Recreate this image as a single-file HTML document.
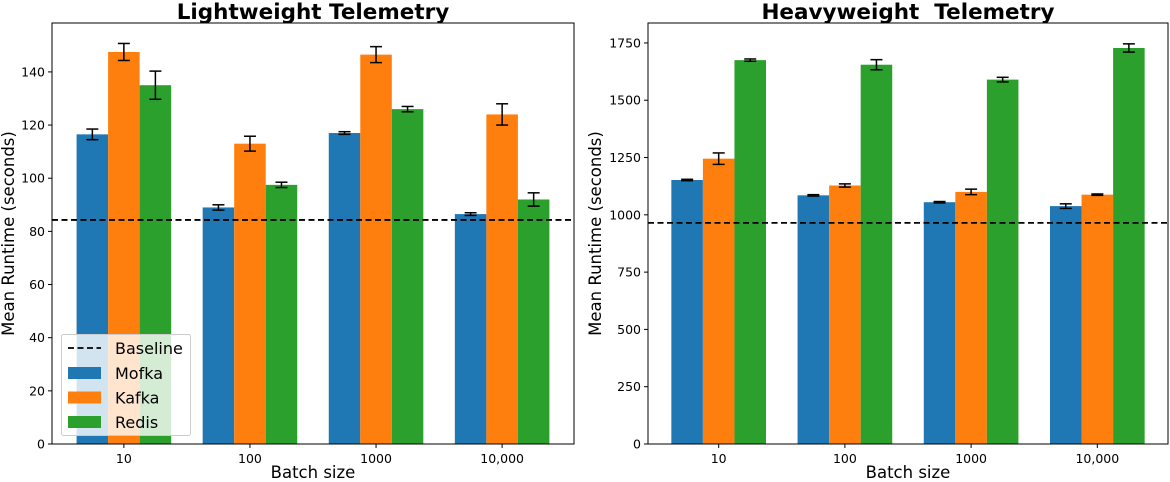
<!DOCTYPE html>
<html><head><meta charset="utf-8"><style>
html,body{margin:0;padding:0;background:#fff;}
svg{display:block;font-family:"DejaVu Sans","Liberation Sans",sans-serif;}
</style></head><body>
<svg id="chart" width="1170" height="482" viewBox="0 0 1170 482" xmlns="http://www.w3.org/2000/svg"></svg>
<script>
const categories = ["10","100","1000","10,000"];
const seriesNames = ["Mofka","Kafka","Redis"];
const lightMofka = [116.5, 89, 117, 86.5];
const lightMofkaErr = [2, 1, 0.5, 0.5];
const lightKafka = [147.5, 113, 146.5, 124];
const lightKafkaErr = [3.2, 2.8, 3, 4];
const lightRedis = [135, 97.5, 126, 92];
const lightRedisErr = [5.3, 1, 1, 2.5];
const lightBaseline = 84.3;
const lightTicks = [0,20,40,60,80,100,120,140];
const heavyMofka = [1152, 1085, 1055, 1038];
const heavyMofkaErr = [3, 3, 3, 10];
const heavyKafka = [1245, 1128, 1100, 1088];
const heavyKafkaErr = [25, 7, 12, 3];
const heavyRedis = [1675, 1655, 1590, 1728];
const heavyRedisErr = [5, 22, 10, 18];
const heavyBaseline = 965;
const heavyTicks = [0,250,500,750,1000,1250,1500,1750];

const colors = ["#1f77b4","#ff7f0e","#2ca02c"];
const NS = "http://www.w3.org/2000/svg";
const svg = document.getElementById("chart");
function mk(tag, attrs, parent){
  const e = document.createElementNS(NS, tag);
  for (const k in attrs) e.setAttribute(k, attrs[k]);
  (parent||svg).appendChild(e);
  return e;
}

function panel(cfg){
  const g = mk("g", {});
  
  
  const L=cfg.left, R=cfg.right, T=23, B=444;
  const xScale = i => L + (i - cfg.xmin) / (cfg.xmax - cfg.xmin) * (R - L);
  const yScale = v => B - v / cfg.ymax * (B - T);
  const bw = (xScale(1) - xScale(0)) * 0.25;
  const vals = [cfg.m, cfg.k, cfg.r], errs = [cfg.me, cfg.ke, cfg.re];
  for (let s=0; s<3; s++){
    for (let i=0; i<categories.length; i++){
      const cx = xScale(i) + (s-1)*bw;
      const y = yScale(vals[s][i]);
      const bar = mk("rect", {x:cx-bw/2, y:y, width:bw, height:B-y, fill:colors[s]}, g);
      
      
      const e = errs[s][i];
      const eg = mk("g", {stroke:"#000","stroke-width":1.5}, g);
      
      
      mk("line", {x1:cx, x2:cx, y1:yScale(vals[s][i]+e), y2:yScale(vals[s][i]-e)}, eg);
      mk("line", {x1:cx-6, x2:cx+6, y1:yScale(vals[s][i]+e), y2:yScale(vals[s][i]+e)}, eg);
      mk("line", {x1:cx-6, x2:cx+6, y1:yScale(vals[s][i]-e), y2:yScale(vals[s][i]-e)}, eg);
    }
  }
  const bl = mk("line", {x1:L, x2:R, y1:yScale(cfg.base), y2:yScale(cfg.base), stroke:"#000", "stroke-width":1.8, "stroke-dasharray":"6,3.5"}, g);
  
  
  const frame = mk("rect", {x:L, y:T, width:R-L, height:B-T, fill:"none", stroke:"#000", "stroke-width":1}, g);
  
  
  for (const t of cfg.ticks){
    const y = yScale(t);
    mk("line", {x1:L-4, x2:L, y1:y, y2:y, stroke:"#000"}, g);
    const tx = mk("text", {x:L-7, y:y+4.5, "text-anchor":"end", "font-size":12.5}, g);
    tx.textContent = t;
    
    
  }
  for (let i=0;i<categories.length;i++){
    const x = xScale(i);
    mk("line", {x1:x, x2:x, y1:B, y2:B+4, stroke:"#000"}, g);
    const tx = mk("text", {x:x, y:B+19, "text-anchor":"middle", "font-size":12.5}, g);
    tx.textContent = categories[i];
    
    
  }
  const xt = mk("text", {x:(L+R)/2, y:478, "text-anchor":"middle", "font-size":16.5}, g);
  xt.textContent = "Batch size";
  
  
  const yt = mk("text", {x:0, y:0, "text-anchor":"middle", "font-size":16.5, transform:"translate("+cfg.ylabX+","+((T+B)/2)+") rotate(-90)"}, g);
  yt.textContent = "Mean Runtime (seconds)";
  
  
  const tt = mk("text", {x:(L+R)/2, y:19, "text-anchor":"middle", "font-size":21.5, "font-weight":"bold"}, g);
  tt.textContent = cfg.title;
  
  
  tt.style.whiteSpace = 'pre';
}

panel({name:"lightweight-panel", title:"Lightweight Telemetry", left:52, right:574, xmin:-0.57, xmax:3.57, ymax:158.4,
  m:lightMofka, me:lightMofkaErr, k:lightKafka, ke:lightKafkaErr, r:lightRedis, re:lightRedisErr, base:lightBaseline, ticks:lightTicks, ylabX:14});
panel({name:"heavyweight-panel", title:"Heavyweight  Telemetry", left:648, right:1168, xmin:-0.56, xmax:3.56, ymax:1837,
  m:heavyMofka, me:heavyMofkaErr, k:heavyKafka, ke:heavyKafkaErr, r:heavyRedis, re:heavyRedisErr, base:heavyBaseline, ticks:heavyTicks, ylabX:601});

// legend
const lg = mk("g", {});


mk("rect", {x:61.5, y:334.5, width:129, height:101, rx:2, fill:"#fff", "fill-opacity":0.8, stroke:"#ccc"}, lg);
const bl2 = mk("line", {x1:68, x2:101, y1:348, y2:348, stroke:"#000", "stroke-width":1.8, "stroke-dasharray":"6,3.5"}, lg);


const lbl0 = mk("text", {x:115, y:354, "font-size":16}, lg);
lbl0.textContent = "Baseline";
for (let s=0;s<3;s++){
  const y = 367 + s*24.5;
  const r = mk("rect", {x:68, y:y, width:33, height:12, fill:colors[s]}, lg);
  
  
  const t = mk("text", {x:115, y:y+12, "font-size":16}, lg);
  t.textContent = seriesNames[s];
}
</script>
</body></html>
